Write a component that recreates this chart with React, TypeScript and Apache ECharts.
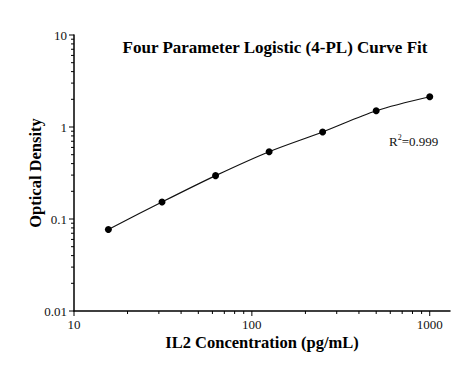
import React, { useEffect, useRef } from "react";
import * as echarts from "echarts";

// Standard concentrations (pg/mL) and optical densities
const concentrations = [15.6, 31.25, 62.5, 125, 250, 500, 1000];
const opticalDensity = [0.077, 0.153, 0.296, 0.539, 0.883, 1.5, 2.13];

// Axis ticks (log scales)
const xMajorTicks = [10, 100, 1000];
const xMinorTicks = [20, 30, 40, 50, 60, 70, 80, 90, 200, 300, 400, 500, 600, 700, 800, 900];
const yMajorTicks = [0.01, 0.1, 1, 10];
const yMinorTicks = [
  0.02, 0.03, 0.04, 0.05, 0.06, 0.07, 0.08, 0.09,
  0.2, 0.3, 0.4, 0.5, 0.6, 0.7, 0.8, 0.9,
  2, 3, 4, 5, 6, 7, 8, 9,
];

const titleText = "Four Parameter Logistic (4-PL) Curve Fit";
const xName = "IL2 Concentration (pg/mL)";
const yName = "Optical Density";
const r2Value = "0.999";

const X_MIN = 10;
const X_MAX = 1300;
const Y_MIN = 0.01;
const Y_MAX = 10;

const FONT = "'Liberation Serif', 'Times New Roman', serif";

const isPow10 = (v: number) => {
  const l = Math.log10(v);
  return Math.abs(l - Math.round(l)) < 1e-6;
};
const fmt = (v: number) => Number(v.toPrecision(6)).toString();

function tickSeries(values: number[], axis: "x" | "y", len: number) {
  return {
    type: "custom",
    silent: true,
    clip: false,
    z: 5,
    data: values.map((v) => (axis === "x" ? [v, Y_MIN] : [X_MIN, v])),
    encode: { x: 0, y: 1 },
    renderItem: (_params: any, api: any) => {
      const p = api.coord([api.value(0), api.value(1)]);
      const shape =
        axis === "x"
          ? { x1: p[0], y1: p[1], x2: p[0], y2: p[1] + len }
          : { x1: p[0] - len, y1: p[1], x2: p[0], y2: p[1] };
      return {
        type: "line",
        shape,
        style: { stroke: "#000", lineWidth: 1 },
      };
    },
  };
}

export default function App() {
  const ref = useRef<HTMLDivElement>(null);

  useEffect(() => {
    if (!ref.current) return;
    const chart = echarts.init(ref.current, undefined, { renderer: "svg" });
    chart.setOption({
      animation: false,
      backgroundColor: "#fff",
      textStyle: { fontFamily: FONT },
      grid: { left: 74, right: 8, top: 35, bottom: 59, containLabel: false, outerBoundsMode: "none" },
      xAxis: {
        type: "log",
        logBase: 10,
        min: X_MIN,
        max: X_MAX,
        name: xName,
        nameLocation: "middle",
        nameGap: 23,
        nameMoveOverlap: false,
        nameTextStyle: { fontFamily: FONT, fontSize: 16.5, fontWeight: "bold", color: "#000" },
        axisLine: { show: true, lineStyle: { color: "#000", width: 1.5 } },
        axisTick: { show: false },
        splitLine: { show: false },
        axisLabel: {
          margin: 7,
          fontFamily: FONT,
          fontSize: 13,
          color: "#111",
          formatter: (v: number) => (isPow10(v) && v <= 1000 ? fmt(v) : ""),
        },
      },
      yAxis: {
        type: "log",
        logBase: 10,
        min: Y_MIN,
        max: Y_MAX,
        name: yName,
        nameLocation: "middle",
        nameGap: 30,
        nameMoveOverlap: false,
        nameTextStyle: { fontFamily: FONT, fontSize: 16.5, fontWeight: "bold", color: "#000" },
        axisLine: { show: true, lineStyle: { color: "#000", width: 1.5 } },
        axisTick: { show: false },
        splitLine: { show: false },
        axisLabel: {
          margin: 7,
          fontFamily: FONT,
          fontSize: 13,
          color: "#111",
          formatter: (v: number) => (isPow10(v) ? fmt(v) : ""),
        },
      },
      graphic: [
        {
          type: "text",
          x: 275,
          y: 47,
          style: {
            text: titleText,
            fontFamily: FONT,
            fontSize: 17,
            fontWeight: "bold",
            fill: "#000",
            align: "center",
            verticalAlign: "middle",
          },
        },
        {
          type: "text",
          x: 389,
          y: 141,
          style: {
            text: "R{sup|2}=" + r2Value,
            fontFamily: FONT,
            fontSize: 13,
            fill: "#111",
            align: "left",
            verticalAlign: "middle",
            rich: {
              sup: { fontFamily: FONT, fontSize: 8, fill: "#111", padding: [0, 0, 7, 0] },
            },
          },
        },
      ],
      series: [
        {
          type: "line",
          data: concentrations.map((c, i) => [c, opticalDensity[i]]),
          smooth: 0.3,
          symbol: "circle",
          symbolSize: 7,
          itemStyle: { color: "#000" },
          lineStyle: { color: "#111", width: 1.2 },
          z: 10,
        },
        tickSeries(xMajorTicks, "x", 5),
        tickSeries(xMinorTicks, "x", 3),
        tickSeries(yMajorTicks, "y", 5),
        tickSeries(yMinorTicks, "y", 3),
      ],
    });
    return () => chart.dispose();
  }, []);

  return (
    <div
      ref={ref}
      style={{ position: "fixed", left: 0, top: 0, width: 458, height: 370, background: "#fff" }}
    />
  );
}
